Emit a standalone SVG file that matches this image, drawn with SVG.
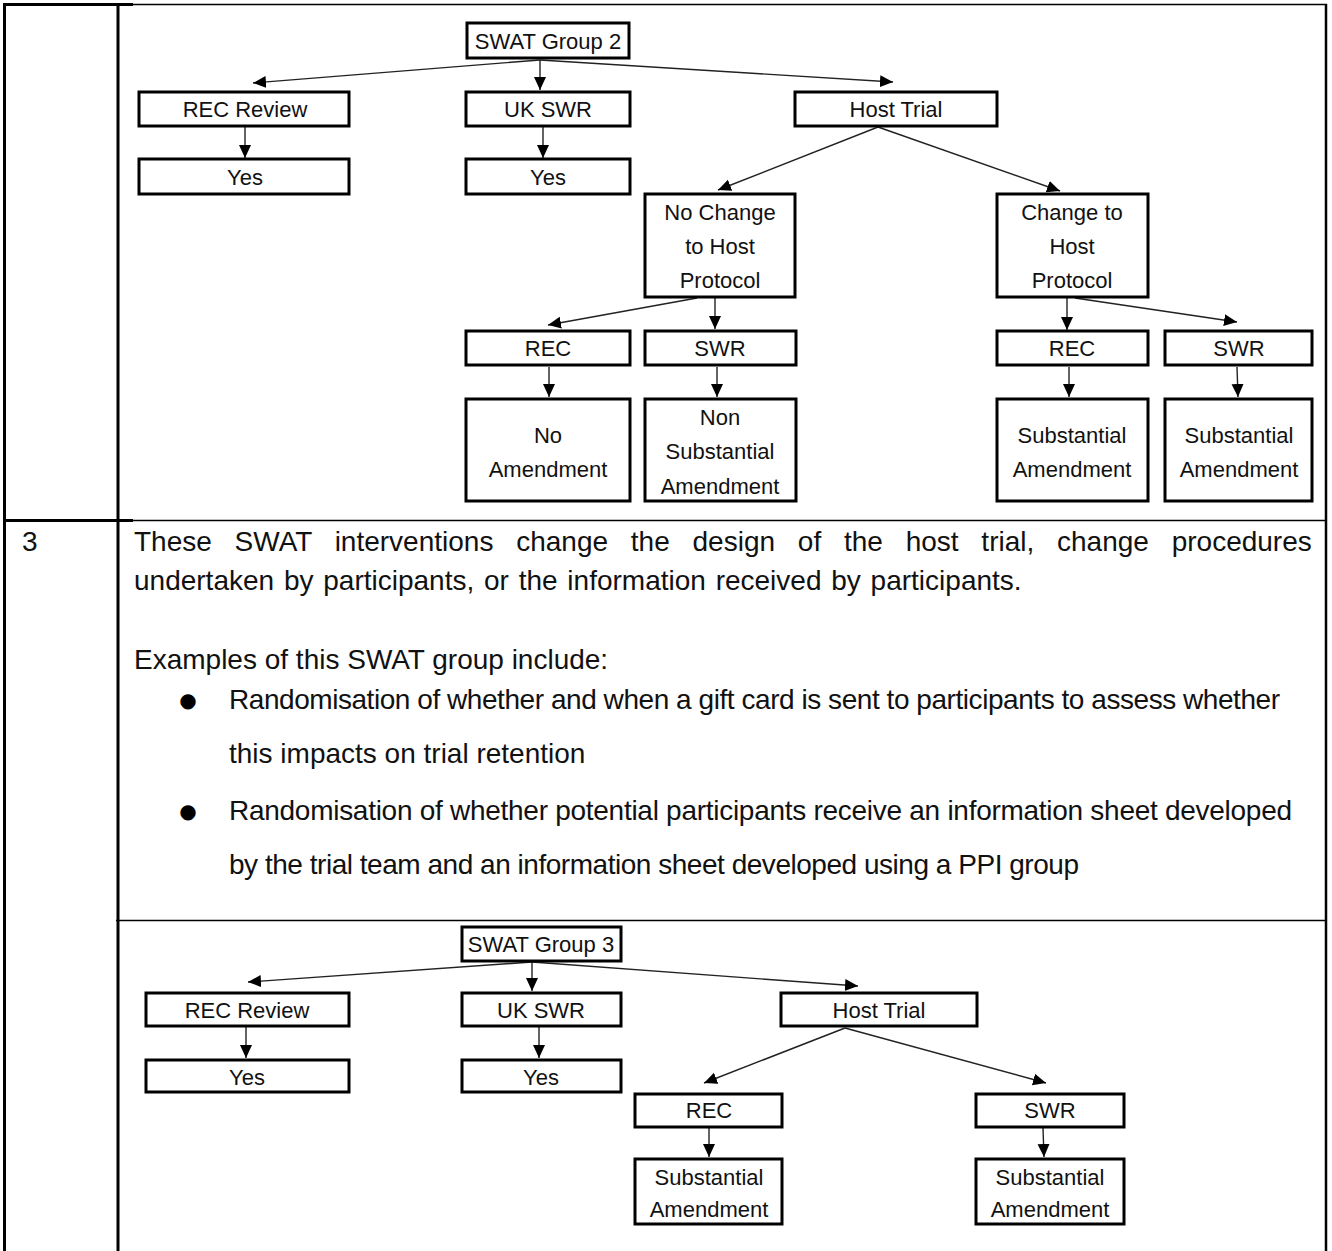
<svg xmlns="http://www.w3.org/2000/svg" width="1332" height="1251" viewBox="0 0 1332 1251">
<style>
.box{fill:#fff;stroke:#000;stroke-width:3}
.lbl{font-family:"Liberation Sans",Arial,sans-serif;font-size:22px;fill:#111;text-anchor:middle}
.body{font-family:"Liberation Sans",Arial,sans-serif;font-size:28px;fill:#111}
.con line{stroke:#222;stroke-width:1.4;marker-end:url(#ah)}
.tb{stroke:#000;fill:none}
</style>
<defs>
<marker id="ah" markerWidth="14" markerHeight="14" refX="13" refY="6" orient="auto" markerUnits="userSpaceOnUse">
<path d="M0,0 L13,6 L0,12 Z" fill="#000"/>
</marker>
</defs>
<rect width="1332" height="1251" fill="#fff"/>
<g id="table">
<line class="tb" x1="3" y1="4.5" x2="133" y2="4.5" stroke-width="3"/>
<line class="tb" x1="133" y1="4.5" x2="1327" y2="4.5" stroke-width="1.5"/>
<line class="tb" x1="4.5" y1="3" x2="4.5" y2="1251" stroke-width="3"/>
<line class="tb" x1="118" y1="3" x2="118" y2="1251" stroke-width="3"/>
<line class="tb" x1="1326" y1="4" x2="1326" y2="1251" stroke-width="2.5"/>
<line class="tb" x1="3" y1="520.5" x2="133" y2="520.5" stroke-width="3"/>
<line class="tb" x1="133" y1="520.5" x2="1327" y2="520.5" stroke-width="1.5"/>
<line class="tb" x1="116" y1="920.5" x2="1327" y2="920.5" stroke-width="1.5"/>
</g>
<g id="row3-text">
<text class="body" x="22" y="551">3</text>
<text class="body" x="134" y="551" style="word-spacing:15px">These SWAT interventions change the design of the host trial, change procedures</text>
<text class="body" x="134" y="590" style="word-spacing:2px">undertaken by participants, or the information received by participants.</text>
<text class="body" x="134" y="669">Examples of this SWAT group include:</text>
<text x="188" y="707" style="font-family:'DejaVu Sans',sans-serif;font-size:20px;text-anchor:middle">●</text>
<text class="body" x="229" y="709" textLength="1051" lengthAdjust="spacing">Randomisation of whether and when a gift card is sent to participants to assess whether</text>
<text class="body" x="229" y="763">this impacts on trial retention</text>
<text x="188" y="818" style="font-family:'DejaVu Sans',sans-serif;font-size:20px;text-anchor:middle">●</text>
<text class="body" x="229" y="820" textLength="1063" lengthAdjust="spacing">Randomisation of whether potential participants receive an information sheet developed</text>
<text class="body" x="229" y="874" textLength="850" lengthAdjust="spacing">by the trial team and an information sheet developed using a PPI group</text>
</g>
<g id="connectors" class="con">
<line x1="540" y1="60" x2="253" y2="83"/>
<line x1="540" y1="60" x2="540" y2="90"/>
<line x1="540" y1="60" x2="893" y2="82"/>
<line x1="245" y1="127" x2="245" y2="158"/>
<line x1="543" y1="127" x2="543" y2="158"/>
<line x1="878" y1="127" x2="718" y2="190"/>
<line x1="878" y1="127" x2="1060" y2="191"/>
<line x1="697" y1="298" x2="548" y2="325"/>
<line x1="715" y1="298" x2="715" y2="329"/>
<line x1="1067" y1="298" x2="1067" y2="330"/>
<line x1="1075" y1="298" x2="1237" y2="322"/>
<line x1="549" y1="367" x2="549" y2="397"/>
<line x1="717" y1="367" x2="717" y2="397"/>
<line x1="1069" y1="367" x2="1069" y2="397"/>
<line x1="1237" y1="367" x2="1238" y2="397"/>
<line x1="532" y1="962" x2="248" y2="982"/>
<line x1="532" y1="962" x2="532" y2="991"/>
<line x1="532" y1="962" x2="858" y2="986"/>
<line x1="246" y1="1027" x2="246" y2="1058"/>
<line x1="539" y1="1027" x2="539" y2="1058"/>
<line x1="845" y1="1028" x2="704" y2="1083"/>
<line x1="845" y1="1028" x2="1046" y2="1083"/>
<line x1="709" y1="1128" x2="709" y2="1157"/>
<line x1="1043" y1="1128" x2="1044" y2="1157"/>
</g>
<g id="g2-root"><rect class="box" x="467" y="23" width="162" height="35"/><text class="lbl" x="548" y="49">SWAT Group 2</text></g>
<g id="g2-rec-review"><rect class="box" x="139" y="92" width="210" height="34"/><text class="lbl" x="245" y="117">REC Review</text></g>
<g id="g2-uk-swr"><rect class="box" x="466" y="92" width="164" height="34"/><text class="lbl" x="548" y="117">UK SWR</text></g>
<g id="g2-host"><rect class="box" x="795" y="92" width="202" height="34"/><text class="lbl" x="896" y="117">Host Trial</text></g>
<g id="g2-yes1"><rect class="box" x="139" y="159" width="210" height="35"/><text class="lbl" x="245" y="185">Yes</text></g>
<g id="g2-yes2"><rect class="box" x="466" y="159" width="164" height="35"/><text class="lbl" x="548" y="185">Yes</text></g>
<g id="g2-nochange"><rect class="box" x="645" y="194" width="150" height="103"/><text class="lbl" x="720" y="220">No Change</text><text class="lbl" x="720" y="254">to Host</text><text class="lbl" x="720" y="288">Protocol</text></g>
<g id="g2-change"><rect class="box" x="997" y="194" width="151" height="103"/><text class="lbl" x="1072" y="220">Change to</text><text class="lbl" x="1072" y="254">Host</text><text class="lbl" x="1072" y="288">Protocol</text></g>
<g id="g2-rec1"><rect class="box" x="466" y="331" width="164" height="34"/><text class="lbl" x="548" y="356">REC</text></g>
<g id="g2-swr1"><rect class="box" x="645" y="331" width="151" height="34"/><text class="lbl" x="720" y="356">SWR</text></g>
<g id="g2-rec2"><rect class="box" x="997" y="331" width="151" height="34"/><text class="lbl" x="1072" y="356">REC</text></g>
<g id="g2-swr2"><rect class="box" x="1165" y="331" width="147" height="34"/><text class="lbl" x="1239" y="356">SWR</text></g>
<g id="g2-noamend"><rect class="box" x="466" y="399" width="164" height="102"/><text class="lbl" x="548" y="443">No</text><text class="lbl" x="548" y="477">Amendment</text></g>
<g id="g2-nonsub"><rect class="box" x="645" y="399" width="151" height="102"/><text class="lbl" x="720" y="425">Non</text><text class="lbl" x="720" y="459">Substantial</text><text class="lbl" x="720" y="494">Amendment</text></g>
<g id="g2-sub1"><rect class="box" x="997" y="399" width="151" height="102"/><text class="lbl" x="1072" y="443">Substantial</text><text class="lbl" x="1072" y="477">Amendment</text></g>
<g id="g2-sub2"><rect class="box" x="1165" y="399" width="147" height="102"/><text class="lbl" x="1239" y="443">Substantial</text><text class="lbl" x="1239" y="477">Amendment</text></g>
<g id="g3-root"><rect class="box" x="462" y="927" width="159" height="34"/><text class="lbl" x="541" y="952">SWAT Group 3</text></g>
<g id="g3-rec-review"><rect class="box" x="146" y="993" width="203" height="33"/><text class="lbl" x="247" y="1018">REC Review</text></g>
<g id="g3-uk-swr"><rect class="box" x="462" y="993" width="159" height="33"/><text class="lbl" x="541" y="1018">UK SWR</text></g>
<g id="g3-host"><rect class="box" x="781" y="993" width="196" height="33"/><text class="lbl" x="879" y="1018">Host Trial</text></g>
<g id="g3-yes1"><rect class="box" x="146" y="1060" width="203" height="32"/><text class="lbl" x="247" y="1085">Yes</text></g>
<g id="g3-yes2"><rect class="box" x="462" y="1060" width="159" height="32"/><text class="lbl" x="541" y="1085">Yes</text></g>
<g id="g3-rec"><rect class="box" x="635" y="1094" width="147" height="33"/><text class="lbl" x="709" y="1118">REC</text></g>
<g id="g3-swr"><rect class="box" x="976" y="1094" width="148" height="33"/><text class="lbl" x="1050" y="1118">SWR</text></g>
<g id="g3-sub1"><rect class="box" x="635" y="1159" width="147" height="65"/><text class="lbl" x="709" y="1185">Substantial</text><text class="lbl" x="709" y="1217">Amendment</text></g>
<g id="g3-sub2"><rect class="box" x="976" y="1159" width="148" height="65"/><text class="lbl" x="1050" y="1185">Substantial</text><text class="lbl" x="1050" y="1217">Amendment</text></g>
</svg>
